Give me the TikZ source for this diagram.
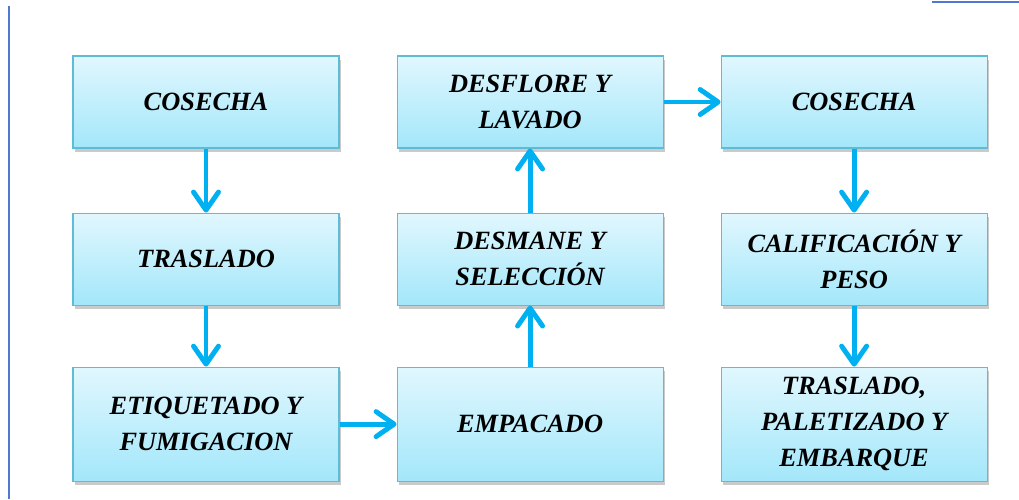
\documentclass[tikz,border=0pt]{standalone}
\usepackage{fontspec}
\setmainfont{Liberation Serif}
\usepackage{tikz}
\usetikzlibrary{positioning, arrows.meta, shadows}
\definecolor{boxtop}{RGB}{225,247,254}
\definecolor{boxbottom}{RGB}{163,231,250}
\definecolor{boxline}{RGB}{95,188,215}
\definecolor{arrowcyan}{RGB}{0,176,240}
\definecolor{rulerblue}{RGB}{80,120,210}
\tikzstyle{stage} = [rectangle,
minimum width=5.32cm,
minimum height=1.84cm,
text centered,
align=center,
font=\fontsize{15}{20.5}\selectfont\bfseries\itshape,
draw=boxline,
line width=0.6pt,
top color=boxtop,
bottom color=boxbottom,
drop shadow={shadow xshift=0.04cm, shadow yshift=-0.07cm, opacity=0.35, fill=black!60}]
\tikzstyle{tallstage} = [stage, minimum height=2.28cm]
\tikzstyle{arrow} = [line width=2.8pt, arrowcyan, -{Straight Barb[length=0.36cm, width=0.5cm, round]}]

\begin{document}
\begin{tikzpicture}[node distance=1.28cm and 1.14cm]
\useasboundingbox (0,0) rectangle (20.38,-9.98);

% page rules
\draw [rulerblue, line width=1.1pt] (0.18,-0.12) -- (0.18,-9.98);
\draw [rulerblue, line width=1.1pt] (18.64,-0.04) -- (20.38,-0.04);

% first column
\node (cos1) [stage] at (4.12,-2.04) {COSECHA};
\node (tras) [stage, below=of cos1] {TRASLADO};
\node (etiq) [tallstage, below=1.22cm of tras] {ETIQUETADO Y\\FUMIGACION};
% second column
\node (empa) [tallstage, right=of etiq] {EMPACADO};
\node (desm) [stage, above=1.22cm of empa] {DESMANE Y\\SELECCIÓN};
\node (desf) [stage, above=of desm] {DESFLORE Y\\LAVADO};
% third column
\node (cos2) [stage, right=of desf] {COSECHA};
\node (cali) [stage, below=of cos2] {CALIFICACIÓN Y\\PESO};
\node (emba) [tallstage, below=1.22cm of cali] {TRASLADO,\\PALETIZADO Y\\EMBARQUE};

\draw [arrow] (cos1) -- (tras);
\draw [arrow] (tras) -- (etiq);
\draw [arrow] (etiq) -- (empa);
\draw [arrow] (empa) -- (desm);
\draw [arrow] (desm) -- (desf);
\draw [arrow] (desf) -- (cos2);
\draw [arrow] (cos2) -- (cali);
\draw [arrow] (cali) -- (emba);

\end{tikzpicture}
\end{document}
